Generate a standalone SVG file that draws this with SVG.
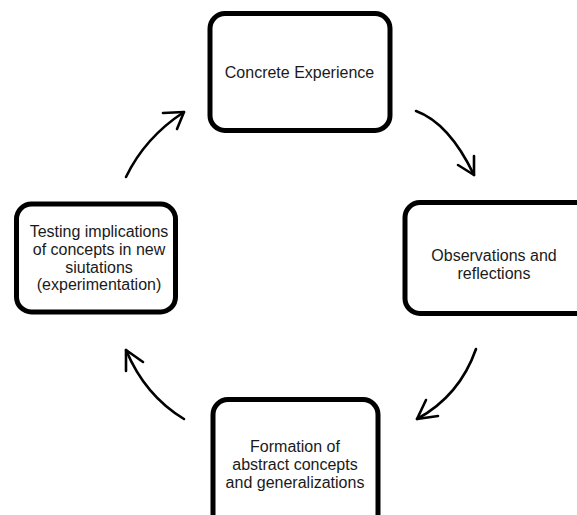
<svg xmlns="http://www.w3.org/2000/svg" width="577" height="515" viewBox="0 0 577 515">
  <style>
    .box { fill: #ffffff; stroke: #000000; stroke-width: 5; }
    .label { font-family: "Liberation Sans", Arial, sans-serif; font-size: 16px; fill: #1a1a1a; text-anchor: middle; }
    .flow { fill: none; stroke: #000000; stroke-width: 2.6; stroke-linecap: round; stroke-linejoin: round; }
  </style>
  <rect x="0" y="0" width="577" height="515" fill="#ffffff"/>

  <g id="concrete-experience">
    <rect class="box" x="210" y="13.5" width="180" height="117" rx="15" ry="15"/>
    <text class="label" x="299.5" y="78">Concrete Experience</text>
  </g>

  <g id="observations-reflections">
    <rect class="box" x="405" y="202.5" width="190" height="111" rx="15" ry="15"/>
    <text class="label" x="494" y="261">Observations and</text>
    <text class="label" x="494" y="279">reflections</text>
  </g>

  <g id="abstract-concepts">
    <rect class="box" x="213" y="399.5" width="165" height="130" rx="15" ry="15"/>
    <text class="label" x="295" y="452">Formation of</text>
    <text class="label" x="295" y="470">abstract concepts</text>
    <text class="label" x="295" y="488">and generalizations</text>
  </g>

  <g id="experimentation">
    <rect class="box" x="16.5" y="204" width="159" height="108" rx="15" ry="15"/>
    <text class="label" x="99" y="237">Testing implications</text>
    <text class="label" x="99" y="255">of concepts in new</text>
    <text class="label" x="99" y="272.5">siutations</text>
    <text class="label" x="99" y="290">(experimentation)</text>
  </g>

  <g id="connectors">
    <!-- experimentation -> concrete experience -->
    <path class="flow" d="M126,177 Q145,137.5 184,112"/>
    <polyline class="flow" points="163,113 184,112 177,129"/>
    <!-- concrete experience -> observations -->
    <path class="flow" d="M416,111 Q449,123 474,175"/>
    <polyline class="flow" points="458,165 474,175 474,156"/>
    <!-- observations -> abstract concepts -->
    <path class="flow" d="M476,349 Q459.5,396 417,419"/>
    <polyline class="flow" points="426,400 417,419 438,416"/>
    <!-- abstract concepts -> experimentation -->
    <path class="flow" d="M184,419 Q145,395.5 126,350"/>
    <polyline class="flow" points="126,371 126,350 143,362"/>
  </g>
</svg>
